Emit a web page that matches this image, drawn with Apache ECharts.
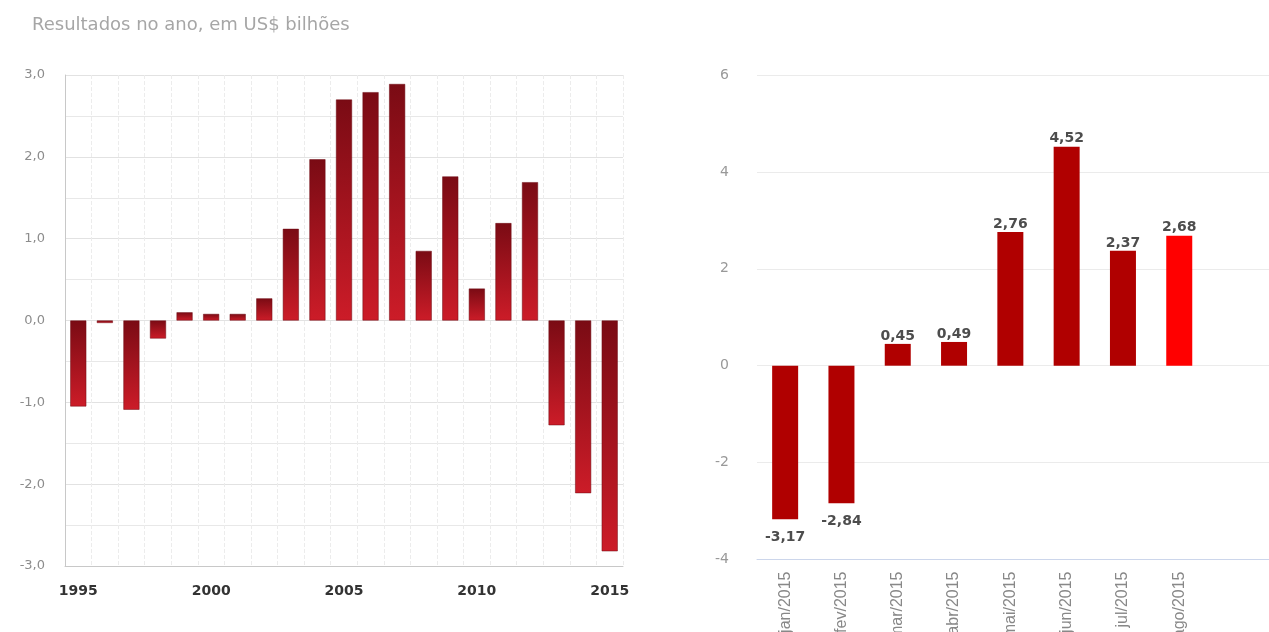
<!DOCTYPE html>
<html>
<head>
<meta charset="utf-8">
<script src="https://cdn.jsdelivr.net/npm/echarts@6/dist/echarts.min.js"></script>
<style>
  html, body { margin: 0; padding: 0; background: #fff; }
  #chart { width: 1269px; height: 632px; }
</style>
</head>
<body>
<div id="chart"></div>
<script>
// resultados anuais, US$ bilhoes
var anos = ['1995', '1996', '1997', '1998', '1999', '2000', '2001', '2002', '2003', '2004', '2005',
  '2006', '2007', '2008', '2009', '2010', '2011', '2012', '2013', '2014', '2015']
var resultadosAno = [-1.05, -0.03, -1.09, -0.22, 0.10, 0.08, 0.08, 0.27, 1.12, 1.97, 2.70,
  2.79, 2.89, 0.85, 1.76, 0.39, 1.19, 1.69, -1.28, -2.11, -2.82]

// resultados mensais de 2015
var meses = ['jan/2015', 'fev/2015', 'mar/2015', 'abr/2015', 'mai/2015', 'jun/2015', 'jul/2015', 'ago/2015']
var resultadosMes = [-3.17, -2.84, 0.45, 0.49, 2.76, 4.52, 2.37, 2.68]

var fonte = 'DejaVu Sans'
var virgula = function (v, casas) {
  return v.toFixed(casas).replace('.', ',')
}

var gradiente = new echarts.graphic.LinearGradient(0, 0, 0, 1, [
  { offset: 0, color: '#7a0b14' },
  { offset: 1, color: '#cc1c28' }
])

var dadosMes = resultadosMes.map(function (v, i) {
  return {
    value: v,
    itemStyle: { color: i === resultadosMes.length - 1 ? '#ff0000' : '#b00000' },
    label: { position: v < 0 ? 'bottom' : 'top', distance: v < 0 ? 11 : 1 }
  }
})

var option = {
  backgroundColor: '#fff',
  animation: false,
  title: {
    text: 'Resultados no ano, em US$ bilhões',
    left: 27,
    top: 11,
    textStyle: {
      color: '#a6a6a6',
      fontSize: 18,
      fontWeight: 'normal',
      fontFamily: fonte
    }
  },
  grid: [
    { left: 65, top: 75, width: 558, height: 491, outerBoundsMode: 'none' },
    { left: 757, top: 75, right: 0, height: 484.5, outerBoundsMode: 'none' },
    { left: 757, top: 75, width: 450.4, height: 484.5, outerBoundsMode: 'none' }
  ],
  xAxis: [
    {
      gridIndex: 0,
      type: 'category',
      data: anos,
      axisLine: { onZero: false, lineStyle: { color: '#c8c8c8' } },
      axisTick: { show: false },
      axisLabel: {
        interval: 4,
        color: '#333',
        fontWeight: 'bold',
        fontSize: 14,
        fontFamily: fonte,
        margin: 18
      },
      splitLine: {
        show: true,
        interval: 0,
        lineStyle: { color: '#ececec', type: 'dashed' }
      }
    },
    {
      gridIndex: 1,
      type: 'value',
      min: 0,
      max: 1,
      axisLine: { show: true, onZero: false, lineStyle: { color: '#ccd6eb' } },
      axisTick: { show: false },
      axisLabel: { show: false },
      splitLine: { show: false }
    },
    {
      gridIndex: 2,
      type: 'category',
      data: meses,
      axisLine: { show: false },
      axisTick: { show: false },
      axisLabel: {
        rotate: 90,
        interval: 0,
        color: '#888',
        fontSize: 16,
        fontFamily: 'Liberation Sans',
        margin: 12
      },
      splitLine: { show: false }
    }
  ],
  yAxis: [
    {
      gridIndex: 0,
      type: 'value',
      min: -3,
      max: 3,
      interval: 1,
      axisLine: { show: true, lineStyle: { color: '#c8c8c8' } },
      axisTick: { show: false },
      axisLabel: {
        color: '#8c8c8c',
        fontSize: 13,
        fontFamily: fonte,
        margin: 20,
        formatter: function (v) { return virgula(v, 1) }
      },
      splitLine: { lineStyle: { color: '#e2e2e2' } },
      minorTick: { show: false, splitNumber: 2 },
      minorSplitLine: { show: true, lineStyle: { color: '#e8e8e8' } }
    },
    {
      gridIndex: 1,
      type: 'value',
      min: -4,
      max: 6,
      interval: 2,
      axisLine: { show: false },
      axisTick: { show: false },
      axisLabel: {
        color: '#999',
        fontSize: 14,
        fontFamily: fonte,
        margin: 28
      },
      splitLine: { lineStyle: { color: '#ebebeb' } }
    },
    {
      gridIndex: 2,
      type: 'value',
      min: -4,
      max: 6,
      interval: 2,
      show: false
    }
  ],
  series: [
    {
      type: 'bar',
      xAxisIndex: 0,
      yAxisIndex: 0,
      barWidth: 16,
      data: resultadosAno,
      itemStyle: {
        color: gradiente,
        borderColor: '#6e0a12',
        borderWidth: 0.5
      }
    },
    {
      type: 'bar',
      xAxisIndex: 2,
      yAxisIndex: 2,
      barWidth: 26,
      data: dadosMes,
      label: {
        show: true,
        color: '#4d4d4d',
        fontSize: 14,
        fontWeight: 'bold',
        fontFamily: fonte,
        formatter: function (p) { return virgula(p.value, 2) }
      }
    }
  ]
}

var chart = echarts.init(document.getElementById('chart'))
chart.setOption(option)
</script>
</body>
</html>
